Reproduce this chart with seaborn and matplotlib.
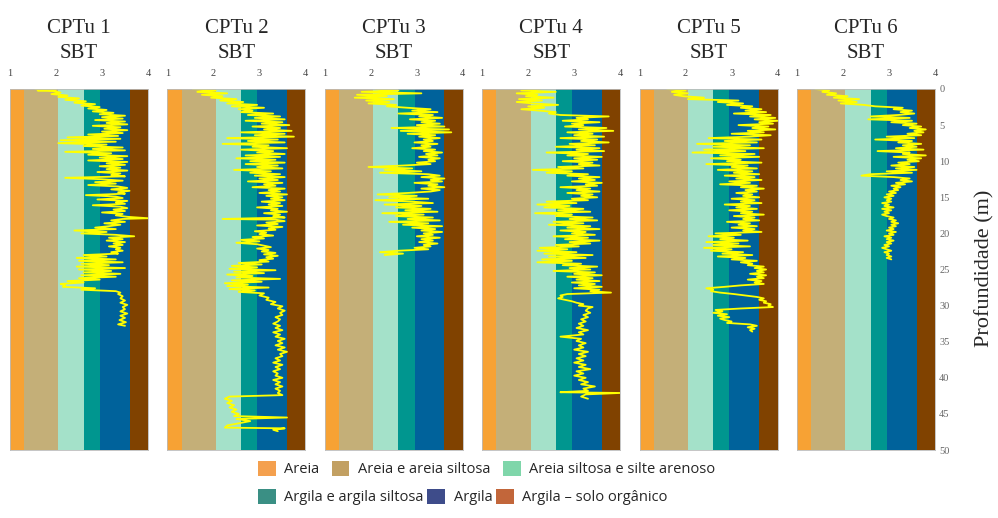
import numpy as np
import pandas as pd
import matplotlib
matplotlib.use('Agg')
import matplotlib.pyplot as plt
import seaborn as sns
from matplotlib.patches import Patch

# SBT (Ic) bands
band_edges = [1.0, 1.31, 2.05, 2.60, 2.95, 3.60, 4.0]
band_colors = ['#F7A234', '#C4AF78', '#A4E1C9', '#00968F', '#00629B', '#804200']

legend_labels = ['Areia', 'Areia e areia siltosa', 'Areia siltosa e silte arenoso',
                 'Argila e argila siltosa', 'Argila', 'Argila – solo orgânico']
legend_colors = ['#F4A04E', '#C2A062', '#7FD6AA', '#3A8F84', '#3E4C8A', '#C2663A']

titles = ['CPTu 1', 'CPTu 2', 'CPTu 3', 'CPTu 4', 'CPTu 5', 'CPTu 6']
depth_ticks = [0, 5, 10, 15, 20, 25, 30, 35, 40, 45, 50]

# (depth m, Ic)
cptu1 = [(0.0, 1.55), (0.1, 2.00), (0.2, 1.60), (0.3, 1.95), (0.5, 2.10), (0.7, 1.90), (0.9, 2.25),
         (1.1, 2.05), (1.3, 2.50), (1.5, 2.20), (1.7, 2.65), (1.9, 2.40), (2.1, 2.85), (2.3, 2.55),
         (2.5, 2.95), (2.7, 2.70), (2.9, 3.10), (3.1, 2.80), (3.3, 3.25), (3.5, 2.95), (3.7, 3.50),
         (3.9, 3.00), (4.1, 3.45), (4.3, 2.85), (4.5, 3.50), (4.7, 3.10), (4.9, 3.55), (5.1, 2.80),
         (5.3, 3.40), (5.5, 3.05), (5.7, 3.55), (5.9, 3.00), (6.1, 3.45), (6.3, 2.70), (6.5, 3.35),
         (6.7, 2.25), (6.9, 3.40), (7.1, 2.10), (7.3, 3.30), (7.5, 2.05), (7.7, 3.10), (7.9, 2.60),
         (8.1, 3.45), (8.3, 2.80), (8.5, 3.50), (8.7, 2.20), (8.9, 3.20), (9.1, 2.70), (9.3, 3.55),
         (9.5, 2.95), (9.7, 3.45), (9.9, 2.70), (10.1, 3.55), (10.3, 3.10), (10.5, 3.50), (10.7, 2.95),
         (10.9, 3.40), (11.1, 3.10), (11.3, 3.55), (11.5, 2.90), (11.7, 3.40), (11.9, 3.20), (12.1, 3.50),
         (12.3, 2.20), (12.5, 3.00), (12.7, 3.45), (12.9, 2.85), (13.1, 3.30), (13.3, 2.70), (13.5, 3.35),
         (13.7, 3.55), (13.9, 3.20), (14.1, 3.60), (14.3, 3.35), (14.5, 3.50), (14.7, 2.65), (14.9, 3.30),
         (15.1, 3.45), (15.3, 2.90), (15.5, 3.55), (15.7, 3.30), (15.9, 3.50), (16.1, 2.80), (16.3, 3.40),
         (16.5, 3.55), (16.7, 3.25), (16.9, 3.50), (17.1, 3.00), (17.3, 3.45), (17.5, 3.30), (17.7, 3.55),
         (17.9, 4.00), (18.0, 3.45), (18.2, 3.20), (18.4, 3.50), (18.6, 3.05), (18.8, 3.40), (19.0, 3.15),
         (19.2, 2.85), (19.4, 3.30), (19.6, 2.40), (19.8, 3.10), (20.0, 2.55), (20.2, 3.30), (20.4, 3.70),
         (20.6, 3.15), (20.8, 3.45), (21.0, 3.10), (21.2, 3.50), (21.4, 3.25), (21.6, 3.45), (21.8, 3.15),
         (22.0, 3.40), (22.2, 3.30), (22.4, 3.45), (22.6, 3.20), (22.8, 3.35), (23.0, 2.60), (23.2, 3.10),
         (23.4, 2.45), (23.6, 3.30), (23.8, 2.50), (24.0, 3.45), (24.2, 2.55), (24.4, 3.15), (24.6, 2.45),
         (24.8, 3.50), (25.0, 2.50), (25.2, 3.20), (25.4, 2.60), (25.6, 3.40), (25.8, 2.55), (26.0, 3.30),
         (26.2, 2.50), (26.4, 2.95), (26.6, 2.25), (26.8, 2.60), (27.0, 2.10), (27.2, 2.20), (27.4, 2.15),
         (27.6, 2.85), (27.8, 2.55), (28.0, 3.30), (28.2, 3.40), (28.4, 3.35), (28.7, 3.45), (29.0, 3.40),
         (29.3, 3.50), (29.6, 3.40), (29.9, 3.55), (30.2, 3.45), (30.5, 3.50), (30.8, 3.40), (31.1, 3.55),
         (31.4, 3.40), (31.7, 3.50), (32.0, 3.38), (32.3, 3.52), (32.6, 3.35), (32.8, 3.50)]

cptu2 = [(0.0, 1.55), (0.2, 2.05), (0.4, 1.65), (0.6, 2.30), (0.8, 1.75), (1.0, 2.20), (1.2, 1.95),
         (1.4, 2.50), (1.6, 2.15), (1.8, 2.65), (2.0, 2.30), (2.2, 2.95), (2.4, 2.40), (2.6, 3.10),
         (2.8, 2.55), (3.0, 2.85), (3.2, 2.60), (3.4, 3.30), (3.6, 2.75), (3.8, 3.45), (4.0, 2.90),
         (4.2, 3.55), (4.4, 2.70), (4.6, 3.50), (4.8, 3.05), (5.0, 3.65), (5.2, 2.85), (5.4, 3.45),
         (5.6, 3.10), (5.8, 3.70), (6.0, 2.60), (6.2, 3.55), (6.4, 2.90), (6.6, 3.75), (6.8, 2.30),
         (7.0, 3.40), (7.2, 2.75), (7.4, 3.55), (7.6, 2.20), (7.8, 3.20), (8.0, 2.85), (8.2, 3.60),
         (8.4, 2.60), (8.6, 3.30), (8.8, 2.95), (9.0, 3.55), (9.2, 2.70), (9.4, 3.45), (9.6, 2.50),
         (9.8, 3.35), (10.0, 2.80), (10.2, 3.55), (10.4, 2.70), (10.6, 3.40), (10.8, 2.95), (11.0, 3.50),
         (11.2, 2.45), (11.4, 3.25), (11.6, 2.80), (11.8, 3.45), (12.0, 2.90), (12.2, 3.55), (12.4, 3.00),
         (12.6, 3.40), (12.8, 2.75), (13.0, 3.50), (13.2, 3.10), (13.4, 3.35), (13.6, 2.85), (13.8, 3.55),
         (14.0, 3.20), (14.2, 3.45), (14.4, 3.00), (14.6, 3.60), (14.8, 3.15), (15.0, 3.50), (15.2, 3.25),
         (15.4, 3.55), (15.6, 3.05), (15.8, 3.45), (16.0, 3.20), (16.2, 3.50), (16.4, 2.95), (16.6, 3.40),
         (16.8, 3.25), (17.0, 3.60), (17.2, 3.10), (17.4, 3.45), (17.6, 3.30), (17.8, 3.55), (18.0, 2.20),
         (18.1, 3.35), (18.3, 3.55), (18.5, 3.15), (18.7, 3.40), (18.9, 2.95), (19.1, 3.50), (19.3, 3.20),
         (19.5, 3.35), (19.7, 2.90), (19.9, 3.15), (20.1, 3.00), (20.3, 3.30), (20.5, 2.85), (20.7, 3.10),
         (20.9, 2.60), (21.1, 3.00), (21.3, 2.50), (21.5, 2.95), (21.7, 3.10), (21.9, 3.25), (22.1, 2.95),
         (22.3, 3.20), (22.5, 3.05), (22.7, 3.35), (22.9, 3.10), (23.1, 3.40), (23.3, 3.15), (23.5, 3.30),
         (23.7, 3.00), (23.9, 3.20), (24.1, 2.55), (24.3, 3.05), (24.5, 2.40), (24.7, 2.95), (24.9, 2.35),
         (25.1, 3.35), (25.3, 2.45), (25.5, 3.10), (25.7, 2.30), (25.9, 2.85), (26.1, 2.50), (26.3, 3.45),
         (26.5, 2.40), (26.7, 3.05), (26.9, 2.25), (27.1, 2.75), (27.3, 2.30), (27.5, 3.20), (27.7, 2.35),
         (27.9, 2.90), (28.1, 2.55), (28.3, 3.10), (28.6, 3.00), (28.9, 3.20), (29.2, 3.15), (29.5, 3.35),
         (29.8, 3.25), (30.1, 3.50), (30.4, 3.40), (30.7, 3.55), (31.0, 3.45), (31.3, 3.50), (31.6, 3.35),
         (31.9, 3.45), (32.2, 3.40), (32.5, 3.30), (32.8, 3.45), (33.1, 3.35), (33.4, 3.50), (33.7, 3.30),
         (34.0, 3.45), (34.3, 3.35), (34.6, 3.55), (34.9, 3.40), (35.2, 3.50), (35.5, 3.35), (35.8, 3.55),
         (36.1, 3.40), (36.4, 3.60), (36.7, 3.45), (37.0, 3.50), (37.3, 3.35), (37.6, 3.45), (37.9, 3.30),
         (38.2, 3.50), (38.5, 3.35), (38.8, 3.45), (39.1, 3.30), (39.4, 3.40), (39.7, 3.35), (40.0, 3.50),
         (40.3, 3.30), (40.6, 3.45), (40.9, 3.35), (41.2, 3.50), (41.5, 3.35), (41.8, 3.45), (42.1, 3.40),
         (42.4, 3.50), (42.6, 2.35), (42.9, 2.25), (43.2, 2.40), (43.5, 2.30), (43.8, 2.45), (44.1, 2.35),
         (44.4, 2.50), (44.7, 2.40), (45.0, 2.55), (45.3, 2.45), (45.5, 3.60), (45.7, 2.50), (46.0, 2.80),
         (46.3, 2.55), (46.6, 2.30), (46.9, 2.25), (47.0, 3.55), (47.2, 3.30), (47.4, 3.40)]

cptu3 = [(0.0, 2.10), (0.2, 2.60), (0.4, 1.80), (0.6, 3.10), (0.8, 1.70), (1.0, 2.35), (1.2, 1.65),
         (1.4, 2.50), (1.6, 1.90), (1.8, 2.40), (2.0, 1.95), (2.2, 2.55), (2.4, 2.35), (2.6, 2.80),
         (2.8, 3.30), (3.0, 2.90), (3.2, 3.45), (3.4, 2.60), (3.6, 3.35), (3.8, 3.05), (4.0, 3.55),
         (4.2, 2.85), (4.4, 3.40), (4.6, 3.10), (4.8, 3.50), (5.0, 3.00), (5.2, 3.60), (5.4, 2.45),
         (5.6, 3.70), (5.8, 2.65), (6.0, 3.75), (6.2, 2.80), (6.4, 3.40), (6.6, 3.05), (6.8, 3.50),
         (7.0, 3.15), (7.2, 3.35), (7.4, 2.95), (7.6, 3.45), (7.8, 3.10), (8.0, 3.30), (8.2, 2.90),
         (8.4, 3.40), (8.6, 3.15), (8.8, 3.55), (9.0, 3.20), (9.2, 3.45), (9.4, 3.05), (9.6, 3.50),
         (9.8, 3.25), (10.0, 3.40), (10.2, 3.00), (10.4, 3.30), (10.6, 2.70), (10.8, 1.95), (11.0, 2.90),
         (11.2, 2.30), (11.4, 3.10), (11.6, 2.20), (11.8, 3.25), (12.0, 3.50), (12.2, 3.10), (12.4, 3.60),
         (12.6, 3.30), (12.8, 3.55), (13.0, 2.95), (13.2, 3.45), (13.4, 3.25), (13.6, 3.60), (13.8, 3.10),
         (14.0, 3.50), (14.2, 3.30), (14.4, 2.80), (14.6, 2.15), (14.8, 3.00), (15.0, 2.40), (15.2, 3.25),
         (15.4, 2.10), (15.6, 2.90), (15.8, 3.35), (16.0, 2.30), (16.2, 3.10), (16.4, 2.55), (16.6, 3.30),
         (16.8, 2.75), (17.0, 3.45), (17.2, 2.25), (17.4, 3.15), (17.6, 2.55), (17.8, 3.35), (18.0, 2.80),
         (18.2, 3.50), (18.4, 2.40), (18.6, 3.25), (18.8, 2.70), (19.0, 3.55), (19.2, 2.90), (19.4, 3.40),
         (19.6, 3.10), (19.8, 3.55), (20.0, 3.15), (20.2, 3.35), (20.4, 3.00), (20.6, 3.50), (20.8, 3.10),
         (21.0, 3.35), (21.2, 3.05), (21.4, 3.45), (21.6, 3.15), (21.8, 3.30), (22.0, 2.95), (22.2, 3.25),
         (22.4, 2.60), (22.6, 2.20), (22.8, 2.70), (23.0, 2.30)]

cptu4 = [(0.0, 2.25), (0.2, 1.85), (0.4, 2.60), (0.6, 1.75), (0.8, 2.20), (1.0, 1.95), (1.2, 2.55),
         (1.4, 1.80), (1.6, 2.30), (1.8, 1.75), (2.0, 2.10), (2.2, 2.65), (2.4, 2.00), (2.6, 2.35),
         (2.8, 1.85), (3.0, 2.25), (3.2, 2.60), (3.4, 2.45), (3.6, 2.70), (3.8, 3.75), (4.0, 3.05),
         (4.2, 3.30), (4.4, 2.75), (4.6, 3.55), (4.8, 2.95), (5.0, 3.20), (5.2, 2.80), (5.4, 3.70),
         (5.6, 3.10), (5.8, 3.85), (6.0, 2.85), (6.2, 3.40), (6.4, 3.00), (6.6, 3.65), (6.8, 2.70),
         (7.0, 3.50), (7.2, 3.15), (7.4, 3.75), (7.6, 2.90), (7.8, 3.45), (8.0, 2.60), (8.2, 3.55),
         (8.4, 3.05), (8.6, 3.65), (8.8, 2.40), (9.0, 3.30), (9.2, 2.85), (9.4, 3.60), (9.6, 3.00),
         (9.8, 3.50), (10.0, 2.75), (10.2, 3.40), (10.4, 3.10), (10.6, 3.55), (10.8, 2.65), (11.0, 3.20),
         (11.2, 2.10), (11.4, 2.95), (11.6, 2.40), (11.8, 3.30), (12.0, 2.85), (12.2, 3.55), (12.4, 3.10),
         (12.6, 3.45), (12.8, 2.95), (13.0, 3.60), (13.2, 3.25), (13.4, 3.50), (13.6, 2.70), (13.8, 3.35),
         (14.0, 3.05), (14.2, 3.55), (14.4, 2.85), (14.6, 3.40), (14.8, 3.15), (15.0, 3.50), (15.2, 2.95),
         (15.4, 3.30), (15.6, 2.40), (15.8, 3.05), (16.0, 2.20), (16.2, 2.90), (16.4, 2.35), (16.6, 3.20),
         (16.8, 2.65), (17.0, 3.35), (17.2, 2.15), (17.4, 2.95), (17.6, 2.60), (17.8, 3.40), (18.0, 2.90),
         (18.2, 3.50), (18.4, 2.55), (18.6, 3.20), (18.8, 2.45), (19.0, 3.35), (19.2, 2.85), (19.4, 3.55),
         (19.6, 2.70), (19.8, 3.25), (20.0, 2.95), (20.2, 3.45), (20.4, 2.55), (20.6, 3.30), (20.8, 2.80),
         (21.0, 3.55), (21.2, 2.90), (21.4, 3.35), (21.6, 2.60), (21.8, 3.10), (22.0, 2.25), (22.2, 2.85),
         (22.4, 2.20), (22.6, 3.05), (22.8, 2.35), (23.0, 3.40), (23.2, 2.45), (23.4, 3.25), (23.6, 2.30),
         (23.8, 2.95), (24.0, 2.20), (24.2, 3.15), (24.4, 2.75), (24.6, 3.50), (24.8, 2.90), (25.0, 3.35),
         (25.2, 2.55), (25.4, 3.45), (25.6, 3.00), (25.8, 3.60), (26.0, 2.85), (26.2, 3.40), (26.4, 3.05),
         (26.6, 3.55), (26.8, 2.95), (27.0, 3.45), (27.2, 3.10), (27.4, 3.60), (27.6, 3.00), (27.8, 3.55),
         (28.0, 3.35), (28.2, 3.80), (28.4, 2.85), (28.6, 2.70), (28.8, 2.75), (29.0, 2.65), (29.2, 2.80),
         (29.4, 2.95), (29.6, 3.05), (29.8, 3.20), (30.0, 3.10), (30.2, 3.40), (30.4, 3.30), (30.7, 3.25),
         (31.0, 3.35), (31.3, 3.20), (31.6, 3.30), (31.9, 3.15), (32.2, 3.25), (32.5, 3.10), (32.8, 3.20),
         (33.1, 3.05), (33.4, 3.30), (33.7, 3.10), (34.0, 3.20), (34.3, 2.70), (34.6, 3.15), (34.9, 3.05),
         (35.2, 3.25), (35.5, 3.10), (35.8, 3.20), (36.1, 3.00), (36.4, 3.30), (36.7, 3.10), (37.0, 3.25),
         (37.3, 3.05), (37.6, 3.20), (37.9, 3.00), (38.2, 3.25), (38.5, 3.10), (38.8, 3.35), (39.1, 3.05),
         (39.4, 3.20), (39.7, 3.00), (40.0, 3.25), (40.3, 3.10), (40.6, 3.30), (40.9, 3.15), (41.2, 3.45),
         (41.5, 3.20), (41.8, 3.30), (42.0, 2.70), (42.1, 4.00), (42.3, 3.25), (42.6, 3.15), (42.9, 3.30)]

cptu5 = [(0.0, 1.60), (0.2, 2.00), (0.4, 1.70), (0.6, 2.05), (0.8, 1.75), (1.0, 1.95), (1.2, 2.40),
         (1.4, 2.05), (1.6, 3.15), (1.8, 2.70), (2.0, 3.25), (2.2, 2.90), (2.4, 3.45), (2.6, 3.20),
         (2.8, 3.65), (3.0, 3.30), (3.2, 3.75), (3.4, 3.05), (3.6, 3.85), (3.8, 3.40), (4.0, 3.95),
         (4.2, 3.50), (4.4, 4.00), (4.6, 3.60), (4.8, 3.90), (5.0, 3.15), (5.2, 3.80), (5.4, 3.45),
         (5.6, 3.95), (5.8, 3.35), (6.0, 3.70), (6.2, 3.00), (6.4, 3.85), (6.6, 3.40), (6.8, 2.50),
         (7.0, 3.65), (7.2, 2.85), (7.4, 3.55), (7.6, 2.25), (7.8, 3.40), (8.0, 2.60), (8.2, 3.70),
         (8.4, 2.40), (8.6, 3.30), (8.8, 2.15), (9.0, 3.50), (9.2, 2.75), (9.4, 3.60), (9.6, 2.55),
         (9.8, 3.20), (10.0, 2.90), (10.2, 3.65), (10.4, 2.45), (10.6, 3.35), (10.8, 3.00), (11.0, 3.55),
         (11.2, 2.70), (11.4, 3.45), (11.6, 3.05), (11.8, 3.60), (12.0, 2.85), (12.2, 3.50), (12.4, 3.10),
         (12.6, 3.65), (12.8, 2.95), (13.0, 3.40), (13.2, 2.75), (13.4, 3.55), (13.6, 3.20), (13.8, 3.70),
         (14.0, 3.30), (14.2, 3.55), (14.4, 3.10), (14.6, 3.45), (14.8, 3.25), (15.0, 3.60), (15.2, 3.00),
         (15.4, 3.50), (15.6, 3.20), (15.8, 3.65), (16.0, 2.85), (16.2, 3.40), (16.4, 3.10), (16.6, 3.55),
         (16.8, 2.95), (17.0, 3.45), (17.2, 3.20), (17.4, 3.70), (17.6, 3.05), (17.8, 3.50), (18.0, 3.25),
         (18.2, 3.60), (18.4, 2.90), (18.6, 3.40), (18.8, 3.15), (19.0, 3.55), (19.2, 3.00), (19.4, 3.50),
         (19.6, 3.25), (19.8, 3.65), (20.0, 2.65), (20.2, 3.20), (20.4, 2.50), (20.6, 3.05), (20.8, 2.75),
         (21.0, 3.35), (21.2, 2.45), (21.4, 3.15), (21.6, 2.60), (21.8, 3.40), (22.0, 2.40), (22.2, 3.00),
         (22.4, 2.55), (22.6, 3.25), (22.8, 2.80), (23.0, 3.45), (23.2, 2.70), (23.4, 3.30), (23.6, 3.00),
         (23.8, 3.55), (24.0, 3.20), (24.2, 3.45), (24.4, 3.35), (24.6, 3.70), (24.8, 3.50), (25.0, 3.75),
         (25.2, 3.55), (25.4, 3.70), (25.6, 3.40), (25.8, 3.75), (26.0, 3.55), (26.2, 3.70), (26.4, 3.35),
         (26.6, 3.65), (26.8, 3.50), (27.0, 3.70), (27.2, 3.20), (27.4, 2.85), (27.6, 2.45), (27.8, 2.60),
         (28.0, 2.55), (28.2, 2.75), (28.4, 3.05), (28.6, 3.30), (28.8, 3.55), (29.0, 3.70), (29.2, 3.60),
         (29.4, 3.75), (29.6, 3.70), (29.8, 3.85), (30.0, 3.80), (30.2, 3.90), (30.4, 3.20), (30.6, 2.65),
         (30.8, 2.80), (31.0, 2.60), (31.2, 2.90), (31.4, 2.70), (31.6, 2.95), (31.8, 2.75), (32.0, 2.85),
         (32.2, 3.00), (32.4, 2.90), (32.6, 3.40), (32.8, 3.55), (33.0, 3.35), (33.2, 3.50), (33.4, 3.40),
         (33.6, 3.45)]

cptu6 = [(0.0, 1.40), (0.2, 1.70), (0.4, 1.55), (0.6, 1.85), (0.8, 1.65), (1.0, 2.10), (1.2, 1.80),
         (1.4, 2.35), (1.6, 1.90), (1.8, 2.30), (2.0, 1.95), (2.2, 2.45), (2.4, 2.70), (2.6, 3.30),
         (2.8, 3.10), (3.0, 3.50), (3.2, 3.25), (3.4, 3.55), (3.6, 3.20), (3.8, 2.60), (4.0, 3.45),
         (4.2, 2.55), (4.4, 3.50), (4.6, 3.05), (4.8, 3.60), (5.0, 3.30), (5.2, 3.70), (5.4, 3.45),
         (5.6, 3.80), (5.8, 3.55), (6.0, 3.75), (6.2, 3.40), (6.4, 3.70), (6.6, 2.95), (6.8, 3.55),
         (7.0, 2.70), (7.2, 3.50), (7.4, 3.20), (7.6, 3.70), (7.8, 3.30), (8.0, 3.60), (8.2, 3.15),
         (8.4, 3.75), (8.6, 2.75), (8.8, 3.45), (9.0, 3.30), (9.2, 3.80), (9.4, 3.10), (9.6, 3.70),
         (9.8, 3.40), (10.0, 3.65), (10.2, 3.20), (10.4, 3.45), (10.6, 3.05), (10.8, 3.55), (11.0, 3.15),
         (11.2, 3.60), (11.4, 2.95), (11.6, 3.50), (11.8, 2.60), (12.0, 2.40), (12.2, 3.10), (12.4, 3.45),
         (12.6, 3.25), (12.8, 3.50), (13.0, 3.15), (13.2, 3.35), (13.4, 3.05), (13.6, 3.25), (13.8, 3.10),
         (14.0, 3.20), (14.2, 3.00), (14.4, 3.15), (14.6, 2.95), (14.8, 3.10), (15.0, 2.90), (15.2, 3.05),
         (15.4, 2.95), (15.6, 3.05), (15.8, 2.85), (16.0, 3.00), (16.2, 2.90), (16.4, 3.10), (16.6, 2.85),
         (16.8, 3.05), (17.0, 2.90), (17.2, 3.00), (17.4, 2.85), (17.6, 2.95), (17.8, 3.10), (18.0, 3.00),
         (18.2, 3.15), (18.4, 3.05), (18.6, 3.20), (18.8, 3.05), (19.0, 3.15), (19.2, 3.00), (19.4, 3.10),
         (19.6, 2.95), (19.8, 3.15), (20.0, 3.00), (20.2, 3.10), (20.4, 2.90), (20.6, 3.05), (20.8, 2.95),
         (21.0, 3.10), (21.2, 2.95), (21.4, 3.05), (21.6, 2.90), (21.8, 3.00), (22.0, 2.85), (22.2, 2.95),
         (22.4, 3.05), (22.6, 2.90), (22.8, 3.00), (23.0, 2.95), (23.2, 3.05), (23.4, 2.95), (23.6, 3.05)]

profiles = [cptu1, cptu2, cptu3, cptu4, cptu5, cptu6]

sns.set_style('white')
plt.rcParams['font.family'] = ['Liberation Serif', 'DejaVu Serif']

W, H = 998, 518
fig = plt.figure(figsize=(W / 100, H / 100), dpi=100)

for i, prof in enumerate(profiles):
    left = 10 + i * 157.4
    ax = fig.add_axes([left / W, (H - 450) / H, 138 / W, 361 / H])
    for k in range(len(band_colors)):
        ax.axvspan(band_edges[k], band_edges[k + 1], color=band_colors[k], lw=0, zorder=0)

    df = pd.DataFrame(prof, columns=['depth', 'ic'])
    sns.lineplot(data=df, x='ic', y='depth', sort=False, estimator=None,
                 color='#FFFF00', lw=1.3, ax=ax)

    ax.set_xlim(1, 4)
    ax.set_ylim(50, 0)
    ax.xaxis.tick_top()
    ax.set_xticks([1, 2, 3, 4])
    ax.tick_params(axis='x', length=0, pad=8, labelsize=7.5, labelcolor='#444444')
    ax.set_xlabel('')
    ax.set_ylabel('')
    for s in ax.spines.values():
        s.set_color('#BBBBBB')
        s.set_linewidth(0.6)

    if i == len(profiles) - 1:
        ax.yaxis.tick_right()
        ax.set_yticks(depth_ticks)
        ax.tick_params(axis='y', length=0, pad=3, labelsize=7.5, labelcolor='#666666')
    else:
        ax.set_yticks([])

    cx = (left + 69) / W
    fig.text(cx, 1 - 33 / H, titles[i], ha='center', va='baseline', fontsize=15)
    fig.text(cx, 1 - 58 / H, 'SBT', ha='center', va='baseline', fontsize=15)

fig.text(985 / W, 1 - 268 / H, 'Profundidade (m)', rotation=90,
         ha='center', va='center', fontsize=16)

handles = [Patch(facecolor=c, edgecolor='none') for c in legend_colors]
leg_font = {'family': 'Open Sans', 'size': 10.5}
for row, (yc, gap) in enumerate([(469, 0.85), (497, 0.25)]):
    idx = range(row * 3, row * 3 + 3)
    fig.legend([handles[j] for j in idx], [legend_labels[j] for j in idx],
               loc='center left', bbox_to_anchor=(258 / W, 1 - yc / H), ncol=3,
               frameon=False, prop=leg_font, borderpad=0, borderaxespad=0,
               handlelength=1.2, handleheight=1.2, handletextpad=0.6, columnspacing=gap)

fig.savefig('out.png', dpi=100)
